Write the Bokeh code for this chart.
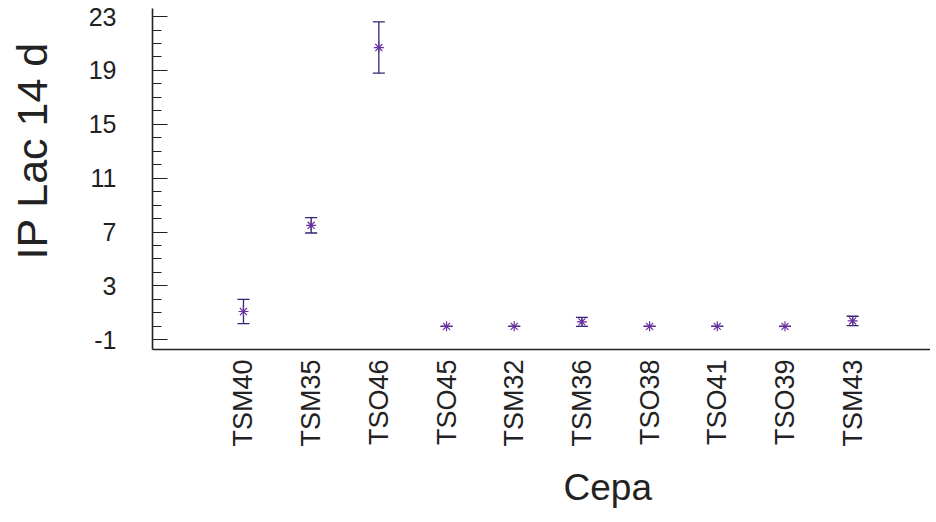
import math
from bokeh.plotting import figure
from bokeh.models import (ColumnDataSource, Range1d, FixedTicker, Whisker,
                          TeeHead, Title)
from bokeh.embed import file_html
from bokeh.resources import INLINE

# ---- data ----
cepas = ["TSM40", "TSM35", "TSO46", "TSO45", "TSM32",
         "TSM36", "TSO38", "TSO41", "TSO39", "TSM43"]
means = [1.1, 7.5, 20.7, 0.0, 0.0, 0.33, 0.0, 0.0, 0.0, 0.4]
errors = [0.9, 0.57, 1.9, 0.0, 0.0, 0.33, 0.0, 0.0, 0.0, 0.35]
y_ticks = [-1, 3, 7, 11, 15, 19, 23]
y_tick_labels = ["-1", "3", "7", "11", "15", "19", "23"]
y_minor = list(range(-1, 24))
y_title = "IP Lac 14 d"
x_title = "Cepa"

positions = list(range(1, len(cepas) + 1))
lower = [m - e for m, e in zip(means, errors)]
upper = [m + e for m, e in zip(means, errors)]
src = ColumnDataSource(dict(x=positions, mean=means, lower=lower, upper=upper))

FONT = "Liberation Sans"
BAR = "#2e2672"
MARK = "#6a2fa0"
INK = "#222222"

p = figure(width=930, height=522, output_backend="svg", toolbar_location=None,
           x_range=Range1d(-0.344, 11.15), y_range=Range1d(-1.72, 23.6),
           min_border_left=152, min_border_right=0, min_border_top=8,
           min_border_bottom=173)
p.outline_line_color = None
p.xgrid.visible = False
p.ygrid.visible = False
p.background_fill_color = "white"
p.border_fill_color = "white"

w = Whisker(source=src, base="x", lower="lower", upper="upper",
            line_color=BAR, line_width=1.3,
            lower_head=TeeHead(size=12, line_color=BAR, line_width=1.3),
            upper_head=TeeHead(size=12, line_color=BAR, line_width=1.3))
p.add_layout(w)
p.scatter("x", "mean", source=src, marker="asterisk", size=10,
          line_color=MARK, line_width=1.2)

# y axis
ya = p.yaxis[0]
ya.ticker = FixedTicker(ticks=y_ticks, minor_ticks=y_minor)
ya.major_label_overrides = {t: s for t, s in zip(y_ticks, y_tick_labels)}
ya.major_tick_in = 15
ya.major_tick_out = 0
ya.minor_tick_in = 9
ya.minor_tick_out = 0
ya.axis_line_width = 1.6
ya.axis_line_color = INK
ya.major_tick_line_color = INK
ya.minor_tick_line_color = INK
ya.major_label_standoff = 36
ya.major_label_text_font = FONT
ya.major_label_text_font_size = "25px"
ya.major_label_text_color = INK
# leading no-break spaces lift the centred title a little, as in the original
ya.axis_label = "\u00a0" * 4 + "\u2009" + y_title
ya.axis_label_text_font = FONT
ya.axis_label_text_font_size = "43px"
ya.axis_label_text_font_style = "normal"
ya.axis_label_text_color = INK
ya.axis_label_standoff = 30

# x axis
xa = p.xaxis[0]
xa.ticker = FixedTicker(ticks=positions, minor_ticks=[])
xa.major_label_overrides = {i: c for i, c in zip(positions, cepas)}
xa.major_label_orientation = math.pi / 2
xa.major_tick_in = 0
xa.major_tick_out = 0
xa.minor_tick_in = 0
xa.minor_tick_out = 0
xa.axis_line_width = 1.6
xa.axis_line_color = INK
xa.major_label_standoff = 10
xa.major_label_text_font = FONT
xa.major_label_text_font_size = "27px"
xa.major_label_text_color = INK

p.add_layout(Title(text=x_title, align="left", offset=411, standoff=30,
                   text_font=FONT, text_font_size="37px",
                   text_font_style="normal", text_color=INK), "below")

open("out.html", "w").write(file_html(p, INLINE))
